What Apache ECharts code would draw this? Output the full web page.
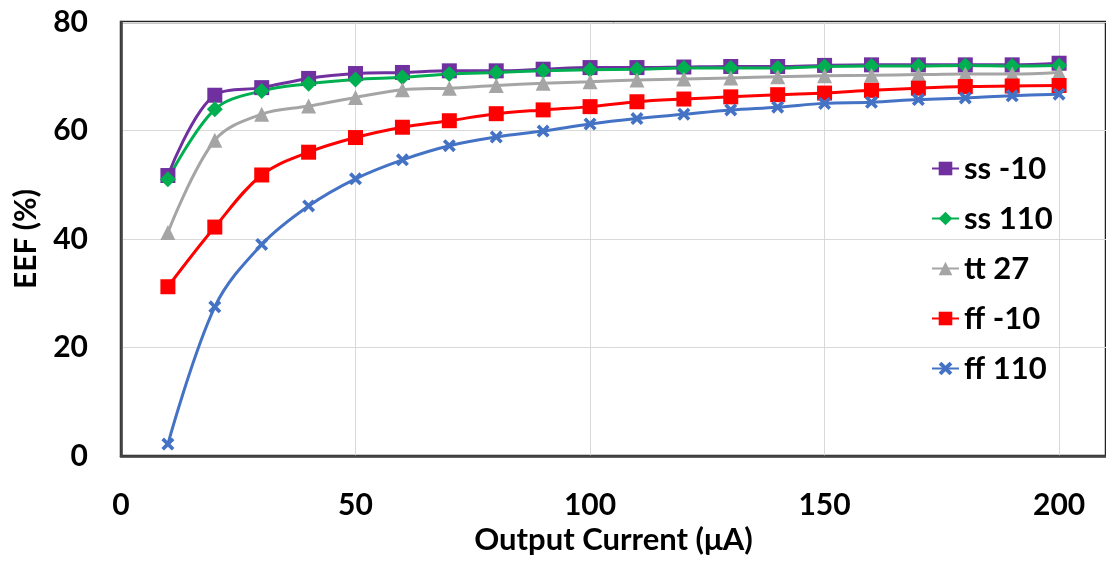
<!DOCTYPE html>
<html>
<head>
<meta charset="utf-8">
<script src="https://cdn.jsdelivr.net/npm/echarts@6/dist/echarts.min.js"></script>
<style>
html,body{margin:0;padding:0;background:#fff;}
#chart{width:1106px;height:561px;}
</style>
</head>
<body>
<div id="chart"></div>
<script>
const currents = [10,20,30,40,50,60,70,80,90,100,110,120,130,140,150,160,170,180,190,200];
const ssMinus10 = [51.7,66.5,67.9,69.6,70.5,70.7,71.0,71.0,71.3,71.6,71.6,71.7,71.8,71.8,72.0,72.1,72.1,72.1,72.1,72.4];
const ss110 = [51.0,63.9,67.3,68.6,69.4,69.8,70.4,70.7,71.0,71.2,71.3,71.5,71.5,71.5,71.8,71.9,71.9,72.0,71.9,72.0];
const tt27 = [41.2,58.2,63.0,64.5,66.1,67.5,67.8,68.3,68.7,69.0,69.3,69.5,69.7,69.9,70.1,70.2,70.3,70.4,70.4,70.7];
const ffMinus10 = [31.2,42.2,51.8,56.0,58.7,60.6,61.8,63.1,63.8,64.4,65.3,65.8,66.2,66.6,66.9,67.4,67.8,68.1,68.2,68.3];
const ff110 = [2.2,27.5,39.0,46.1,51.1,54.6,57.2,58.8,59.9,61.2,62.2,63.0,63.8,64.3,65.0,65.2,65.7,66.0,66.4,66.7];
const seriesNames = ['ss -10','ss 110','tt 27','ff -10','ff 110'];
const xTicks = [0,50,100,150,200];
const yTicks = [0,20,40,60,80];

const FONT = 'Lato';
const xPath = 'path://M0,2 L2,0 L5,3 L8,0 L10,2 L7,5 L10,8 L8,10 L5,7 L2,10 L0,8 L3,5 Z';

function pairs(vals){ return currents.map((c,i)=>[c, vals[i]]); }

const defs = [
  {name: seriesNames[0], data: ssMinus10, color:'#7030A0', symbol:'rect', size:15},
  {name: seriesNames[1], data: ss110, color:'#00B050', symbol:'diamond', size:16},
  {name: seriesNames[2], data: tt27, color:'#A5A5A5', symbol:'triangle', size:15},
  {name: seriesNames[3], data: ffMinus10, color:'#FF0000', symbol:'rect', size:15},
  {name: seriesNames[4], data: ff110, color:'#4472C4', symbol:xPath, size:13}
];

const chart = echarts.init(document.getElementById('chart'), null, {renderer:'canvas'});
chart.setOption({
  animation:false,
  backgroundColor:'#fff',
  grid:{left:121, top:22, right:-6, bottom:105, show:true, borderColor:'#222', borderWidth:2.5, containLabel:false},
  legend:{
    orient:'vertical', left:926, top:148, itemGap:19, itemWidth:27, itemHeight:17,
    textStyle:{fontFamily:FONT, fontWeight:'bold', fontSize:31, color:'#000', lineHeight:31},
    data: seriesNames
  },
  xAxis:{
    type:'value', min:0, max:210, interval:50,
    name:'Output Current (μA)', nameLocation:'middle', nameGap:66,
    nameTextStyle:{fontFamily:FONT, fontWeight:'bold', fontSize:31, color:'#000'},
    axisLine:{show:true, lineStyle:{color:'#444', width:2.5}},
    axisTick:{show:false},
    axisLabel:{fontFamily:FONT, fontWeight:'bold', fontSize:30, color:'#000', margin:34,
      customValues: xTicks},
    splitLine:{show:true, lineStyle:{color:'#d9d9d9', width:1}}
  },
  yAxis:{
    type:'value', min:0, max:80, interval:20,
    name:'EEF (%)', nameLocation:'middle', nameGap:80, nameRotate:90,
    nameTextStyle:{fontFamily:FONT, fontWeight:'bold', fontSize:30, color:'#000'},
    axisLine:{show:true, lineStyle:{color:'#444', width:2.5}},
    axisTick:{show:false},
    axisLabel:{fontFamily:FONT, fontWeight:'bold', fontSize:30, color:'#000', margin:33,
      customValues: yTicks},
    splitLine:{show:true, lineStyle:{color:'#d9d9d9', width:1}}
  },
  series: defs.map(d=>({
    name:d.name, type:'line', data:pairs(d.data), smooth:0.35,
    symbol:d.symbol, symbolSize:d.size, showAllSymbol:true,
    lineStyle:{color:d.color, width:3},
    itemStyle:{color:d.color}
  }))
});
</script>
</body>
</html>
